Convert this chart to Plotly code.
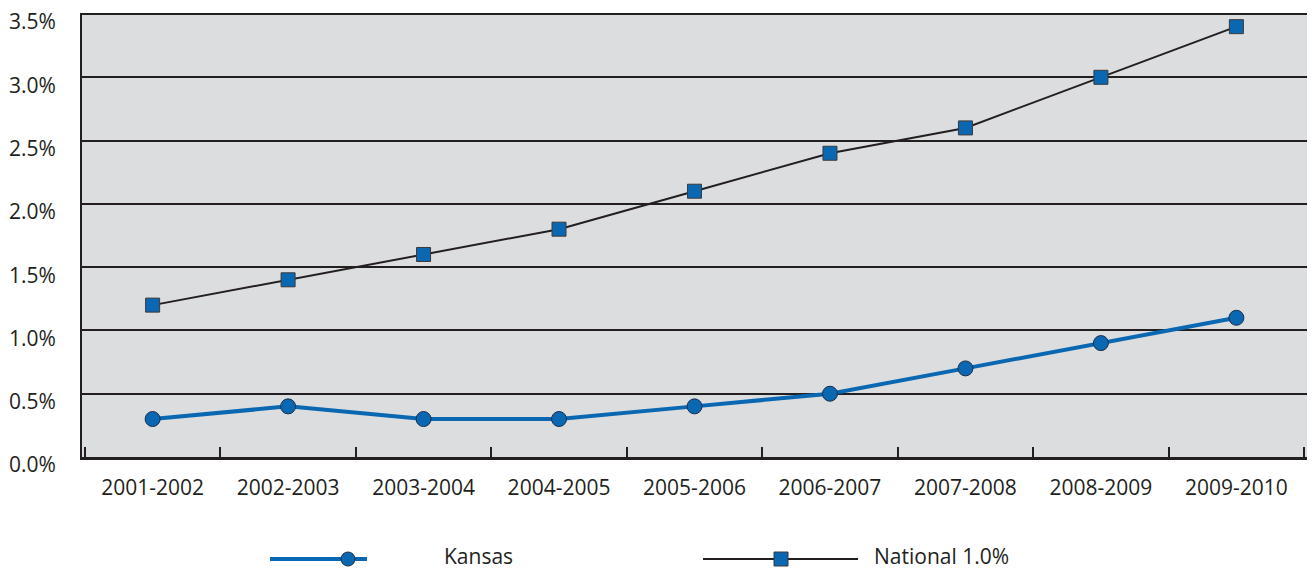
import plotly.graph_objects as go

# School years on the category axis
years = ["2001-2002", "2002-2003", "2003-2004", "2004-2005", "2005-2006",
         "2006-2007", "2007-2008", "2008-2009", "2009-2010"]

# Percent values per series
kansas = [0.3, 0.4, 0.3, 0.3, 0.4, 0.5, 0.7, 0.9, 1.1]
national = [1.2, 1.4, 1.6, 1.8, 2.1, 2.4, 2.6, 3.0, 3.4]

y_ticks = [0.0, 0.5, 1.0, 1.5, 2.0, 2.5, 3.0, 3.5]

BLUE = "#0A67B2"
INK = "#231F20"
FONT = "Open Sans"

W, H = 1312, 571
ML, MR, MT, MB = 82, 5, 13, 114
PW, PH = W - ML - MR, H - MT - MB
Y_TOP = 3.508

fig = go.Figure()

fig.add_trace(go.Scatter(
    x=years, y=national, mode="lines+markers", name="National 1.0%",
    line=dict(color=INK, width=2),
    marker=dict(symbol="square", size=14, color=BLUE,
                line=dict(color="#3a3a3a", width=1)),
))
fig.add_trace(go.Scatter(
    x=years, y=kansas, mode="lines+markers", name="Kansas",
    line=dict(color=BLUE, width=4),
    marker=dict(symbol="circle", size=15, color=BLUE,
                line=dict(color="#1b2f4a", width=1)),
))


def px_x(px):
    return (px - ML) / PW


def px_y(py):
    return (H - MB - py) / PH


# Custom legend below the plot area
shapes = []
annotations = []
legend_items = [
    # (x0, x1, marker x, text x, line color, line width, symbol, label)
    (270, 367, 348, 443, BLUE, 4, "circle", "Kansas"),
    (703, 858, 781, 873, INK, 2, "rect", "National 1.0%"),
]
LY = 559
TEXT_Y = 556
for x0, x1, mx, tx, col, lw, sym, label in legend_items:
    shapes.append(dict(type="line", xref="paper", yref="paper",
                       x0=px_x(x0), x1=px_x(x1), y0=px_y(LY), y1=px_y(LY),
                       line=dict(color=col, width=lw)))
    r = 7
    shapes.append(dict(type="circle" if sym == "circle" else "rect",
                       xref="paper", yref="paper",
                       xsizemode="pixel", ysizemode="pixel",
                       xanchor=px_x(mx), yanchor=px_y(LY),
                       x0=-r, x1=r, y0=-r, y1=r,
                       fillcolor=BLUE,
                       line=dict(color="#1b2f4a" if sym == "circle" else "#3a3a3a",
                                 width=1)))
    annotations.append(dict(xref="paper", yref="paper", x=px_x(tx), y=px_y(TEXT_Y),
                            text=label, showarrow=False, xanchor="left",
                            yanchor="middle", borderpad=0,
                            font=dict(family=FONT, size=21, color=INK)))

fig.update_layout(
    width=W, height=H,
    margin=dict(l=ML, r=MR, t=MT, b=MB),
    paper_bgcolor="white",
    plot_bgcolor="#DCDDDF",
    showlegend=False,
    shapes=shapes,
    annotations=annotations,
    font=dict(family=FONT, size=21, color=INK),
)

fig.update_xaxes(
    type="category",
    tickson="boundaries",
    ticks="inside", ticklen=10, tickwidth=2, tickcolor=INK,
    showline=True, linecolor=INK, linewidth=2.5,
    showgrid=False,
    ticklabelstandoff=10,
    tickfont=dict(family=FONT, size=21, color=INK),
)

fig.update_yaxes(
    range=[0, Y_TOP],
    tickvals=y_ticks,
    ticktext=[f"{v:.1f}%" for v in y_ticks],
    showline=True, linecolor=INK, linewidth=2,
    showgrid=True, gridcolor=INK, gridwidth=2,
    zeroline=False,
    ticks="",
    ticklabelstandoff=20,
    ticklabelshift=8,
    tickfont=dict(family=FONT, size=21, color=INK),
)

fig.write_html("out.html")
